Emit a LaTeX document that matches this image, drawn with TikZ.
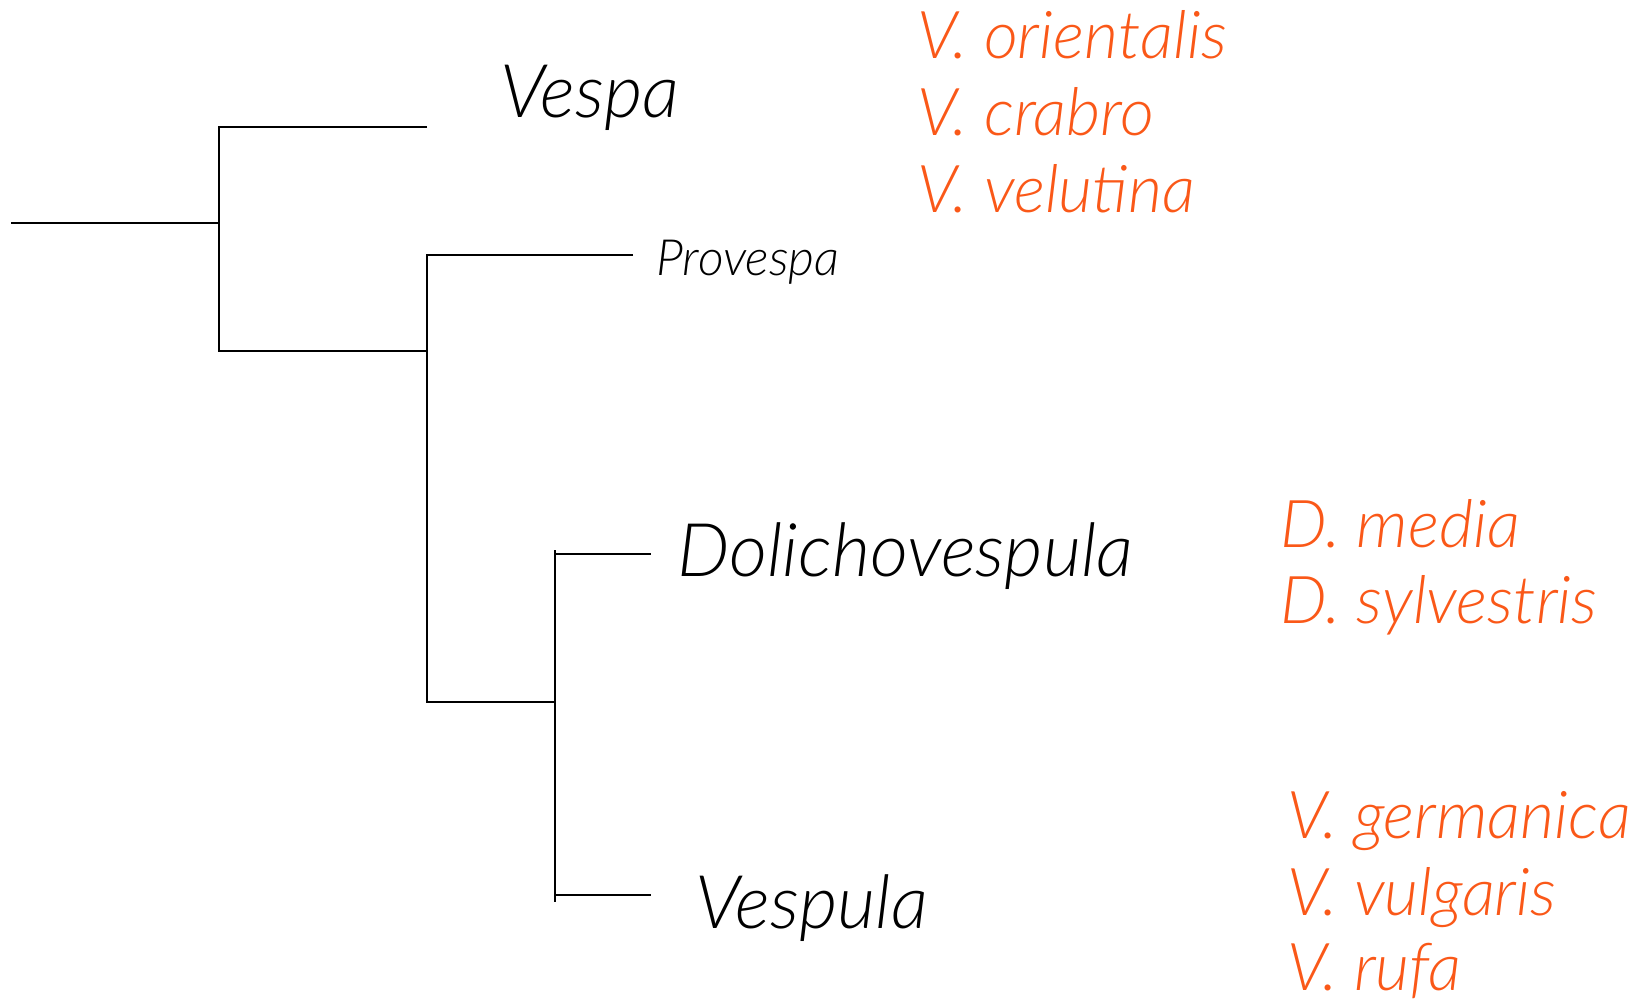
\documentclass[tikz,border=0pt]{standalone}
\usepackage{fontspec}
\newfontfamily\lt{Lato Light Italic}
\definecolor{orng}{RGB}{250,88,24}
\begin{document}
\begin{tikzpicture}[x=0.5pt,y=-0.5pt,
  br/.style={line width=1.3pt, line cap=butt},
  big/.style={anchor=base west, inner sep=0pt, font=\lt\fontsize{37}{44}\selectfont},
  small/.style={anchor=base west, inner sep=0pt, font=\lt\fontsize{25}{30}\selectfont},
  sp/.style={anchor=base west, inner sep=0pt, text=orng, font=\lt\fontsize{33}{39}\selectfont}]
\useasboundingbox (0,0) rectangle (1635,998);
% tree coordinates
\coordinate (root) at (11,223);
\coordinate (n1) at (219,223);
\coordinate (n1t) at (219,127);
\coordinate (n1b) at (219,351);
\coordinate (vespaE) at (427,127);
\coordinate (n2b) at (427,351);
\coordinate (n2t) at (427,255);
\coordinate (proE) at (633,255);
\coordinate (n2d) at (427,702);
\coordinate (n3) at (555,702);
\coordinate (n3t) at (555,550);
\coordinate (n3b) at (555,902);
\coordinate (dolS) at (555,554);
\coordinate (dolE) at (651,554);
\coordinate (vplS) at (555,895);
\coordinate (vplE) at (651,895);
\draw[br] (root) -- (n1);
\draw[br] (vespaE) -- (n1t) -- (n1b) -- (n2b);
\draw[br] (proE) -- (n2t) -- (n2d) -- (n3);
\draw[br] (n3t) -- (n3b);
\draw[br] (dolS) -- (dolE);
\draw[br] (vplS) -- (vplE);
% genus labels
\node[big] (vespa) at (500,117) {Vespa};
\node[small] (provespa) at (656,275) {Provespa};
\node[big] (dolicho) at (677,576) {Dolichovespula};
\node[big] (vespula) at (695,928) {Vespula};
% species
\node[sp] (vo) at (917,58) {V. orientalis};
\node[sp] (vc) at (917,135) {V. crabro};
\node[sp] (vv) at (917,212) {V. velutina};
\node[sp] (dm) at (1280,547) {D. media};
\node[sp] (ds) at (1280,623) {D. sylvestris};
\node[sp] (vg) at (1287,838) {V. germanica};
\node[sp] (vu) at (1287,915) {V. vulgaris};
\node[sp] (vr) at (1287,990) {V. rufa};
\end{tikzpicture}
\end{document}
